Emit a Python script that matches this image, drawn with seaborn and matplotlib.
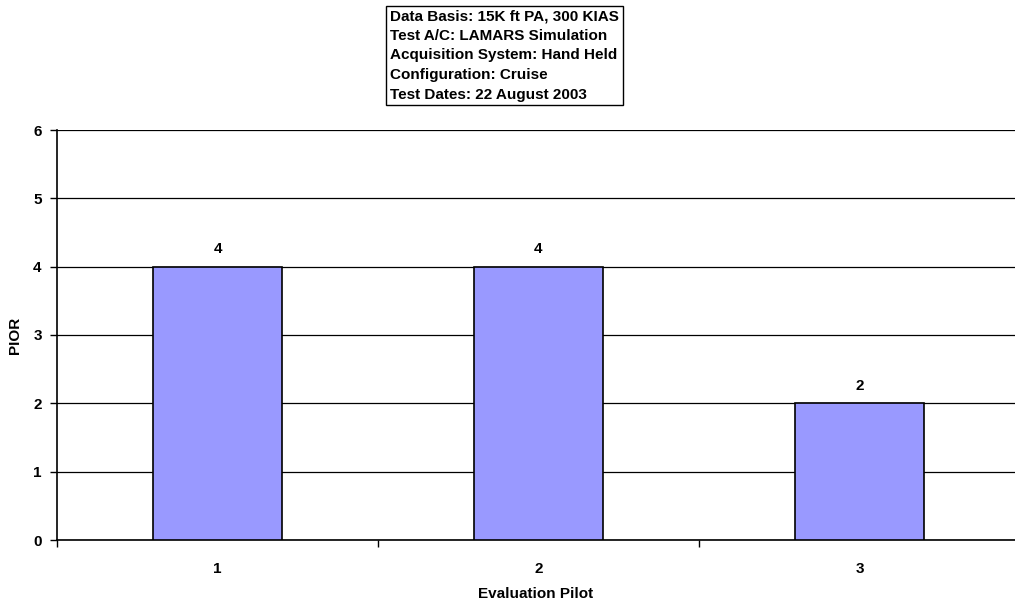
import matplotlib
matplotlib.use("Agg")
import matplotlib.pyplot as plt
import seaborn as sns
import pandas as pd
from matplotlib.ticker import FixedLocator

pilots = ["1", "2", "3"]
pior = [4, 4, 2]
y_ticks = [0, 1, 2, 3, 4, 5, 6]
info_lines = [
    "Data Basis: 15K ft PA, 300 KIAS",
    "Test A/C: LAMARS Simulation",
    "Acquisition System: Hand Held",
    "Configuration: Cruise",
    "Test Dates: 22 August 2003",
]

sns.set_theme(style="white")
plt.rcParams["font.family"] = ["Liberation Sans", "DejaVu Sans"]
plt.rcParams["font.weight"] = "bold"
plt.rcParams["text.color"] = "black"
plt.rcParams["axes.labelcolor"] = "black"
plt.rcParams["xtick.color"] = "black"
plt.rcParams["ytick.color"] = "black"

df = pd.DataFrame({"Evaluation Pilot": pilots, "PIOR": pior})

fig = plt.figure(figsize=(10.15, 6.0), dpi=100)
W, H = 1015, 600
ax = fig.add_axes([57 / W, 60 / H, (W - 57) / W, 410 / H])

sns.barplot(data=df, x="Evaluation Pilot", y="PIOR", color="#9999FF",
            edgecolor="black", linewidth=1.2, width=0.4, saturation=1, ax=ax, zorder=3)

ax.set_ylim(0, 6)
ax.set_xlim(-0.5, -0.5 + (W - 57) / 321)
ax.set_yticks(y_ticks)
ax.yaxis.grid(True, color="black", linewidth=0.9, zorder=0)
ax.set_axisbelow(True)

for s in ["top", "right"]:
    ax.spines[s].set_visible(False)
for s in ["left", "bottom"]:
    ax.spines[s].set_color("black")
    ax.spines[s].set_linewidth(1.2)

ax.tick_params(axis="y", which="major", direction="out", length=5, width=1,
               color="black", labelcolor="black", labelsize=11, pad=6, left=True)
ax.tick_params(axis="x", which="major", length=0, labelsize=11,
               labelcolor="black", pad=16)
ax.xaxis.set_minor_locator(FixedLocator([-0.5, 0.5, 1.5, 2.5]))
ax.tick_params(axis="x", which="minor", direction="out", length=5, width=1,
               color="black", bottom=True)
for lbl in ax.get_xticklabels() + ax.get_yticklabels():
    lbl.set_fontweight("bold")

ax.set_xlabel("Evaluation Pilot", fontsize=11, fontweight="bold",
              color="black", labelpad=8)
ax.set_ylabel("PIOR", fontsize=11, fontweight="bold", color="black", labelpad=8)

for i, v in enumerate(pior):
    ax.text(i, v + 0.15, str(v), ha="center", va="bottom",
            fontsize=11, fontweight="bold", color="black")

fig.text(390 / W, 1 - 55.5 / H, "\n".join(info_lines), ha="left", va="center",
         fontsize=11, fontweight="bold", color="black", linespacing=1.5,
         bbox=dict(boxstyle="square,pad=0.25", fc="white", ec="black", lw=1))

fig.savefig("out.png", dpi=100)
